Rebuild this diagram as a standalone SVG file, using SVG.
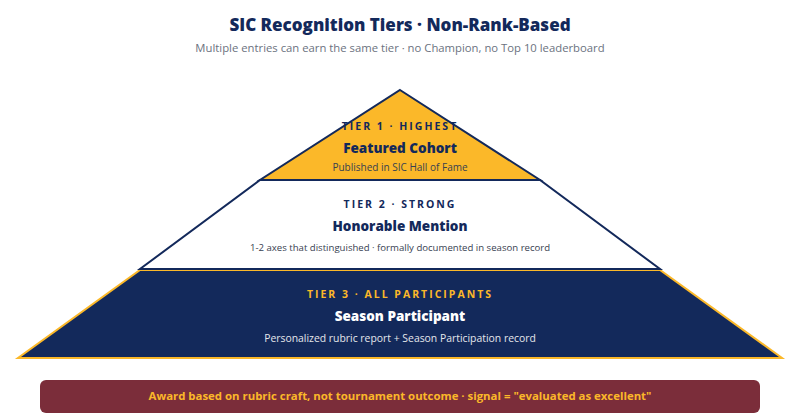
<svg xmlns="http://www.w3.org/2000/svg" width="800" height="420" viewBox="0 0 800 420">
<style>
text{font-family:"Open Sans","Noto Sans","Liberation Sans",sans-serif;text-anchor:middle}
.title{font-size:17px;font-weight:800;fill:#13295b}
.sub{font-size:11.3px;fill:#6b7280}
.lbl{font-size:10.5px;font-weight:700;letter-spacing:2px}
.name{font-size:13.5px;font-weight:800}
.desc{font-size:10px}
</style>
<rect width="800" height="420" fill="#ffffff"/>
<text class="title" x="400" y="31">SIC Recognition Tiers · Non-Rank-Based</text>
<text class="sub" x="400" y="52">Multiple entries can earn the same tier · no Champion, no Top 10 leaderboard</text>
<g id="tier3">
<polygon points="140,270 660,270 782,358 18,358" fill="#13295b" stroke="#fbb829" stroke-width="2"/>
<text class="lbl" x="400" y="298" fill="#fbb829">TIER 3 · ALL PARTICIPANTS</text>
<text class="name" x="400" y="321" fill="#ffffff">Season Participant</text>
<text class="desc" x="400" y="342" fill="#e5e7eb" style="font-size:10.4px">Personalized rubric report + Season Participation record</text>
</g>
<g id="tier2">
<polygon points="260,180 540,180 660,269 140,269" fill="#ffffff" stroke="#13295b" stroke-width="2"/>
<text class="lbl" x="400" y="208" fill="#13295b">TIER 2 · STRONG</text>
<text class="name" x="400" y="231" fill="#13295b">Honorable Mention</text>
<text class="desc" x="400" y="251" fill="#374151" style="font-size:9.6px">1-2 axes that distinguished · formally documented in season record</text>
</g>
<g id="tier1">
<polygon points="400,90 540,180 260,180" fill="#fbb829" stroke="#13295b" stroke-width="2"/>
<text class="lbl" x="400" y="130" fill="#13295b">TIER 1 · HIGHEST</text>
<text class="name" x="400" y="153" fill="#13295b">Featured Cohort</text>
<text class="desc" x="400" y="171" fill="#374151">Published in SIC Hall of Fame</text>
</g>
<g id="note">
<rect x="40" y="380" width="720" height="33" rx="6" fill="#7b2d3a"/>
<text x="400" y="400" font-size="11.4" font-weight="700" fill="#fbb829">Award based on rubric craft, not tournament outcome · signal = "evaluated as excellent"</text>
</g>
</svg>
